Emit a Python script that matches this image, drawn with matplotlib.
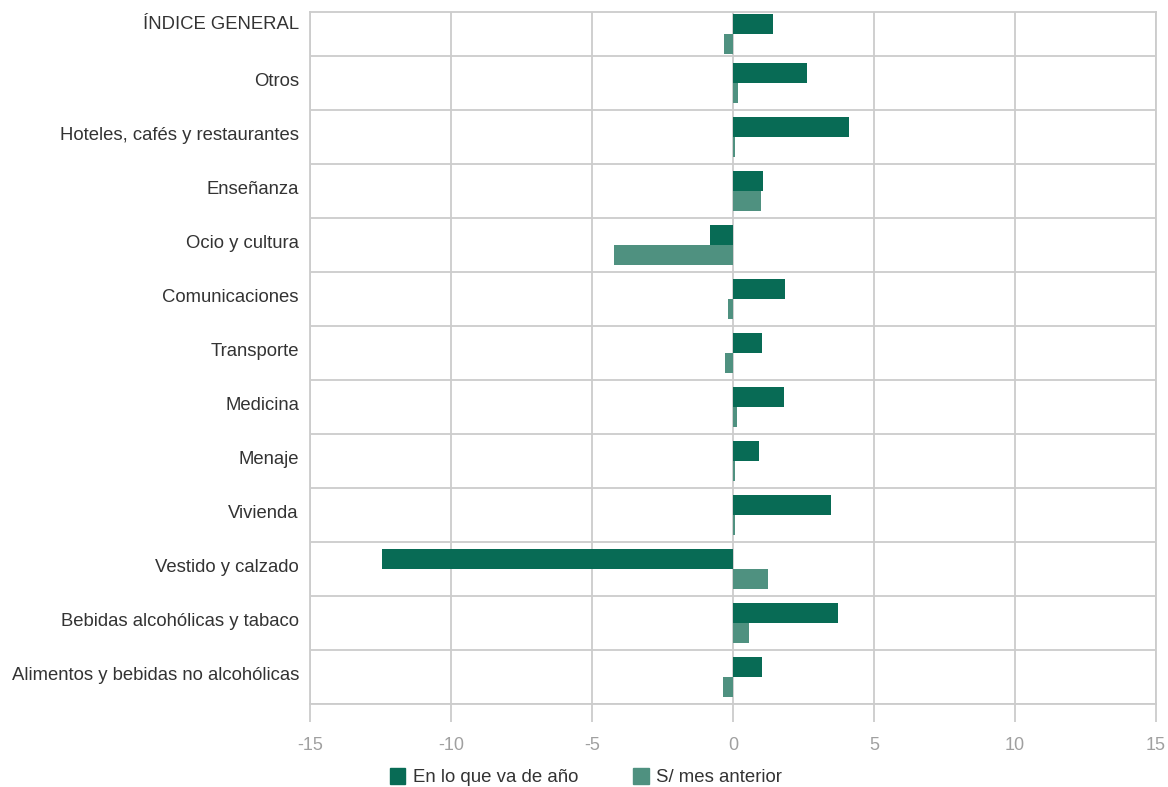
import matplotlib
matplotlib.use("Agg")
import matplotlib.pyplot as plt
import numpy as np
from matplotlib.patches import Patch

categories = [
    "ÍNDICE GENERAL", "Otros", "Hoteles, cafés y restaurantes", "Enseñanza",
    "Ocio y cultura", "Comunicaciones", "Transporte", "Medicina", "Menaje",
    "Vivienda", "Vestido y calzado", "Bebidas alcohólicas y tabaco",
    "Alimentos y bebidas no alcohólicas",
]
en_lo_que_va = [1.42, 2.63, 4.12, 1.07, -0.81, 1.85, 1.04, 1.81, 0.93, 3.48, -12.45, 3.73, 1.04]
mes_anterior = [-0.31, 0.18, 0.08, 1.00, -4.22, -0.17, -0.27, 0.15, 0.08, 0.07, 1.24, 0.57, -0.35]
series_names = ["En lo que va de año", "S/ mes anterior"]
xticks = [-15, -10, -5, 0, 5, 10, 15]

DARK = "#086b55"
LIGHT = "#4f9180"
GRID = "#cccccc"

plt.rcParams["font.family"] = ["Liberation Sans", "DejaVu Sans"]

fig = plt.figure(figsize=(11.68, 7.87), dpi=100)
ax = fig.add_axes([310 / 1168, 1 - 704 / 787, 846 / 1168, 692 / 787])

n = len(categories)
pos = np.arange(n)[::-1].astype(float)
# the top row is squeezed a little in the original
bar_pos = pos.copy()
bar_pos[0] -= 0.1
h = 0.37
ax.barh(bar_pos + h / 2, en_lo_que_va, height=h, color=DARK, zorder=3)
ax.barh(bar_pos - h / 2, mes_anterior, height=h, color=LIGHT, zorder=3)

ax.set_xlim(-15, 15)
ax.set_ylim(-0.5, n - 0.5 - 0.19)
ax.set_xticks(xticks)
ax.set_xticklabels([str(t) for t in xticks])
label_pos = pos + 0.06
label_pos[0] += 0.06
ax.set_yticks(label_pos)
ax.set_yticklabels(categories)
ax.set_yticks(np.arange(n) - 0.5, minor=True)

ax.grid(axis="x", color=GRID, linewidth=1.3, zorder=0)
ax.grid(axis="y", which="minor", color=GRID, linewidth=1.3, zorder=0)
ax.tick_params(axis="x", length=13, width=1.3, color=GRID, labelcolor="#a0a0a0",
               labelsize=13, pad=11)
ax.tick_params(axis="y", which="both", length=0, labelsize=13.3, pad=8,
               labelcolor="#333333")
for side in ["left", "bottom", "right", "top"]:
    ax.spines[side].set_color(GRID)
    ax.spines[side].set_linewidth(1.3)

handles = [Patch(color=DARK), Patch(color=LIGHT)]
fig.legend(handles, series_names, loc="center", bbox_to_anchor=(586 / 1168, 1 - 777 / 787),
           ncol=2, frameon=False, fontsize=13.4, handlelength=0.85, handleheight=0.95,
           handletextpad=0.4, columnspacing=2.95, labelcolor="#333333")

fig.savefig("out.png", dpi=100)
